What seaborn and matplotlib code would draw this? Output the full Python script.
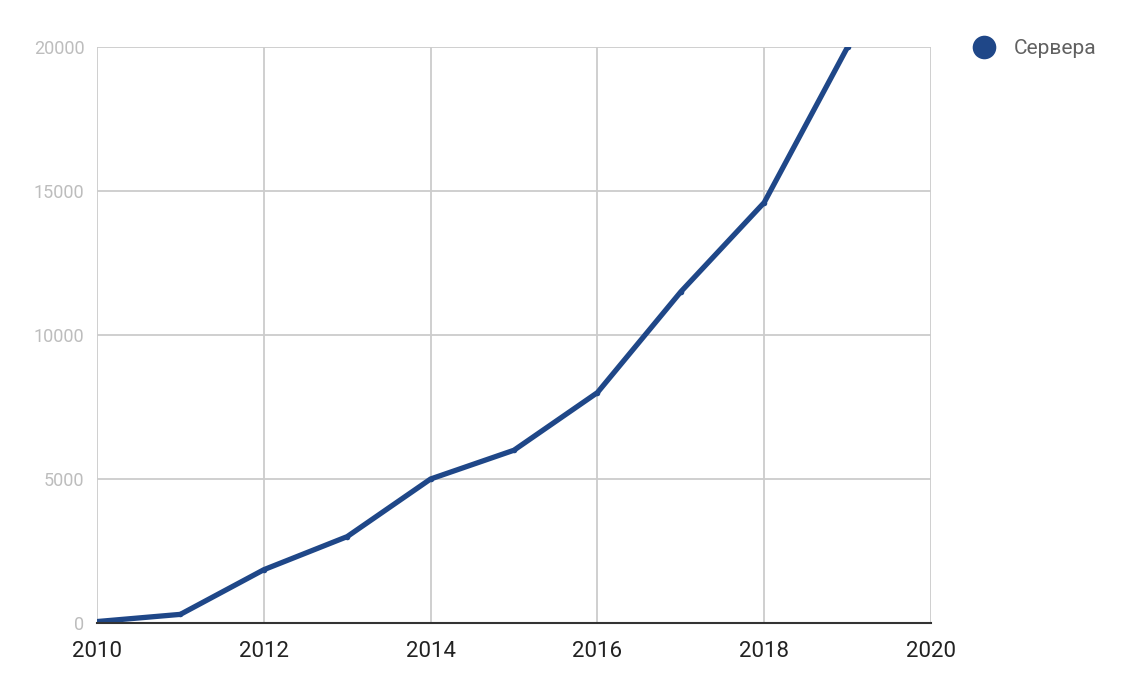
import pandas as pd
import numpy as np
import seaborn as sns
import matplotlib.pyplot as plt
from matplotlib.lines import Line2D

years = [2010, 2011, 2012, 2013, 2014, 2015, 2016, 2017, 2018, 2019]
servers = [50, 300, 1850, 3000, 5000, 6000, 8000, 11500, 14600, 20000]
series_name = 'Сервера'

df = pd.DataFrame({'year': years, 'value': servers})

sns.set_style('white')
plt.rcParams['font.family'] = ['Roboto', 'DejaVu Sans']

fig = plt.figure(figsize=(11.28, 6.98), dpi=100)
ax = fig.add_axes([97 / 1128, 1 - 623 / 698, (931 - 97) / 1128, (623 - 47) / 698])

line_color = '#1f4788'
sns.lineplot(x='year', y='value', data=df, ax=ax, color=line_color, linewidth=3.8,
             marker='o', markersize=4, markeredgewidth=0, clip_on=True)

ax.set_xlim(2010, 2020)
ax.set_ylim(0, 20000)
ax.set_xticks([2010, 2012, 2014, 2016, 2018, 2020])
ax.set_yticks([0, 5000, 10000, 15000, 20000])
ax.grid(True, color='#cccccc', linewidth=1.3)
ax.set_axisbelow(True)

for side in ['left', 'right', 'top']:
    ax.spines[side].set_visible(False)
ax.spines['bottom'].set_color('#333333')
ax.spines['bottom'].set_linewidth(1.5)
ax.spines['bottom'].set_zorder(3)

ax.tick_params(axis='x', colors='#222222', labelsize=16, length=0, pad=13)
ax.tick_params(axis='y', colors='#bdbdbd', labelsize=13, length=0, pad=9)
ax.set_xlabel('')
ax.set_ylabel('')

handle = Line2D([], [], marker='o', color='none', markerfacecolor=line_color,
                markeredgewidth=0, markersize=17)
leg = fig.legend([handle], [series_name], loc='center left',
                 bbox_to_anchor=(950 / 1128, 1 - 49 / 698), frameon=False,
                 fontsize=15, handletextpad=0.65, handlelength=1.5)
for t in leg.get_texts():
    t.set_color('#616161')

plt.savefig('out.png', dpi=100)
